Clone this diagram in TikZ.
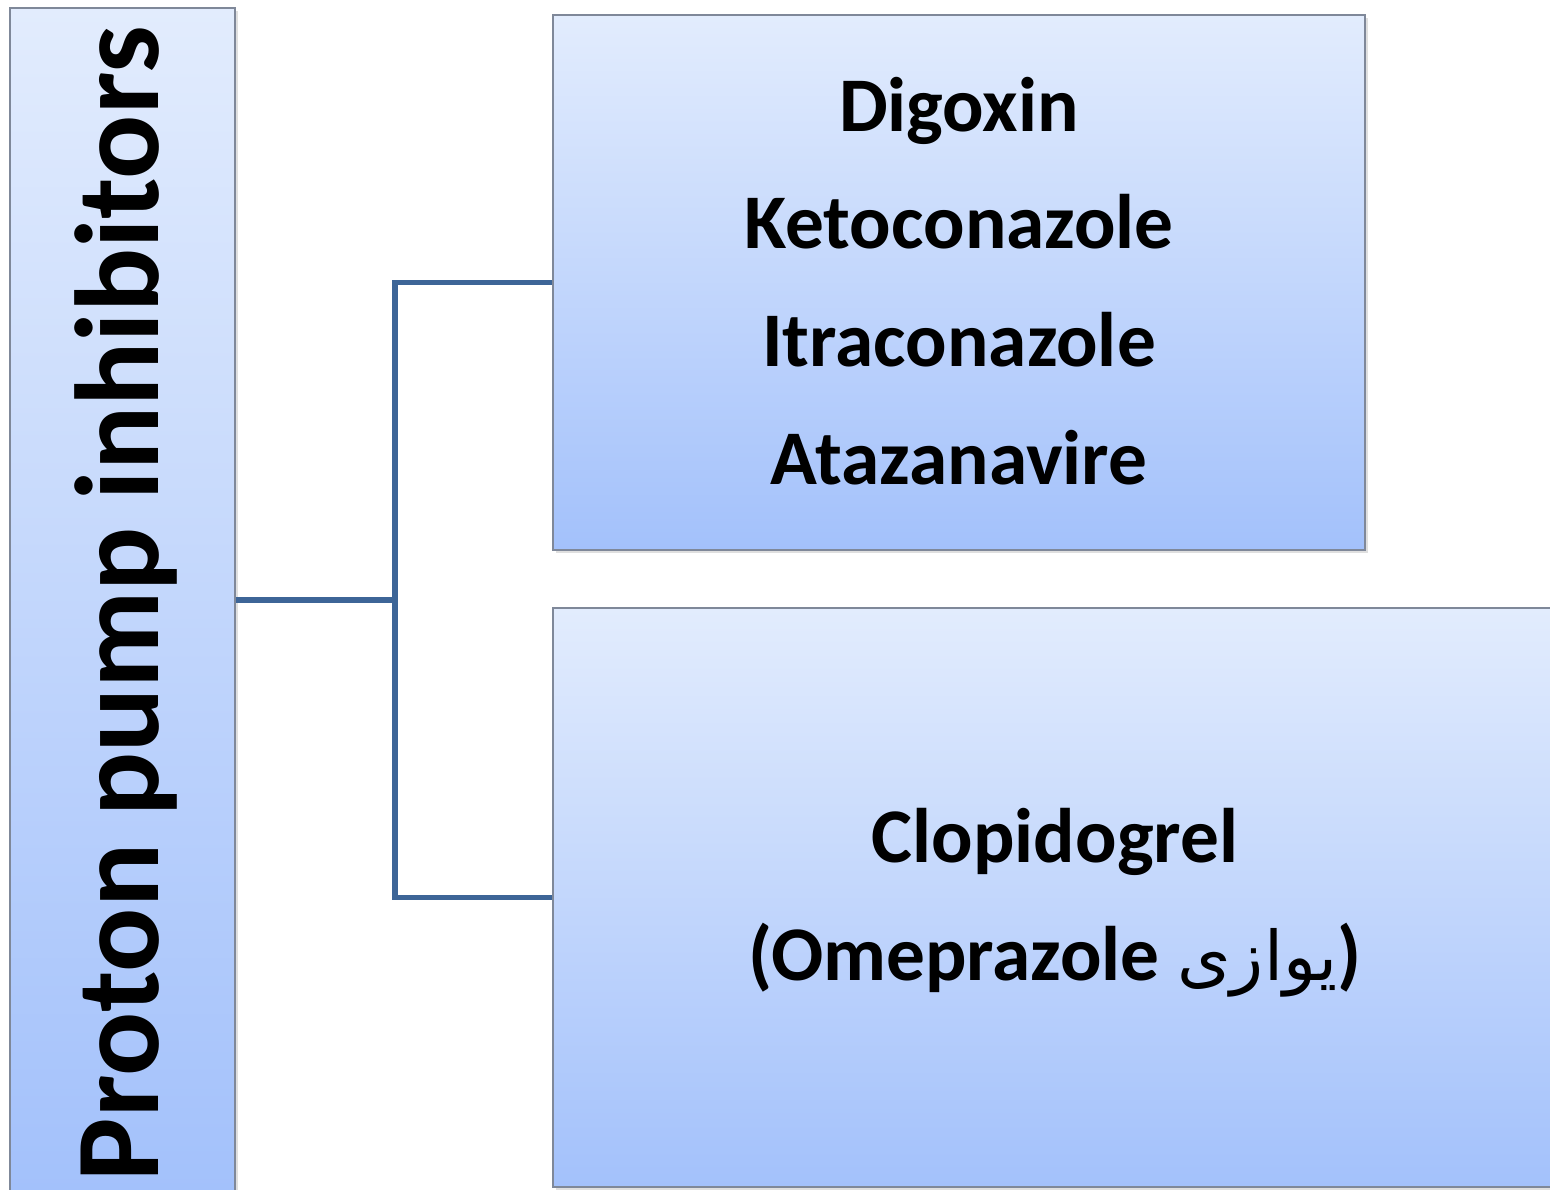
\documentclass[tikz,border=0pt]{standalone}
\usepackage{fontspec}
\setmainfont{Carlito}
\newfontfamily\arabicfont[Script=Arabic]{DejaVu Sans}
\TeXXeTstate=1
\usepackage{xcolor}
\usepackage{tikz}
\usetikzlibrary{shadows}

\definecolor{boxtop}{HTML}{E2ECFD}
\definecolor{boxbot}{HTML}{A3C1FB}
\definecolor{boxline}{HTML}{7F8899}
\definecolor{linkblue}{HTML}{3D6597}

\begin{document}
\begin{tikzpicture}[x=0.2mm,y=-0.2mm]
\tikzstyle{every node}+=[inner sep=0pt]
\tikzstyle{drugbox}=[draw=boxline, line width=0.4mm, top color=boxtop, bottom color=boxbot,
  drop shadow={opacity=0.25, shadow xshift=0.6mm, shadow yshift=-0.6mm}]
\tikzstyle{drugtext}=[font=\bfseries\fontsize{44}{67}\selectfont, align=center]
\tikzstyle{link}=[draw=linkblue, line width=1.1mm]
\useasboundingbox (0,0) rectangle (1550,1190);
\clip (0,0) rectangle (1550,1190);
% left: the class
\node [drugbox, minimum width=45mm, minimum height=236.8mm] (ppi) at (122.5,600) {};
\node [rotate=90, font=\bfseries\fontsize{68}{80}\selectfont] (ppitext) at (126,604) {Proton pump inhibitors};
% right: interacting drugs
\node [drugbox, minimum width=162.4mm, minimum height=107mm] (top) at (959,282.5) {};
\node [drugtext] (toptext) at (959,281) {Digoxin\\Ketoconazole\\Itraconazole\\Atazanavire};
\node [drugbox, minimum width=200.8mm, minimum height=115.8mm] (bot) at (1055,897.5) {};
\node [drugtext] (bottext) at (1055,903) {Clopidogrel\\(Omeprazole {\arabicfont\mdseries\fontsize{39}{67}\selectfont\beginR یوازی\endR})};
% connectors
\coordinate (jn) at (395,600);
\draw [link] (ppi.east) -- (jn);
\draw [link] (jn) |- (top.west);
\draw [link] (jn) |- (bot.west);
\end{tikzpicture}
\end{document}
